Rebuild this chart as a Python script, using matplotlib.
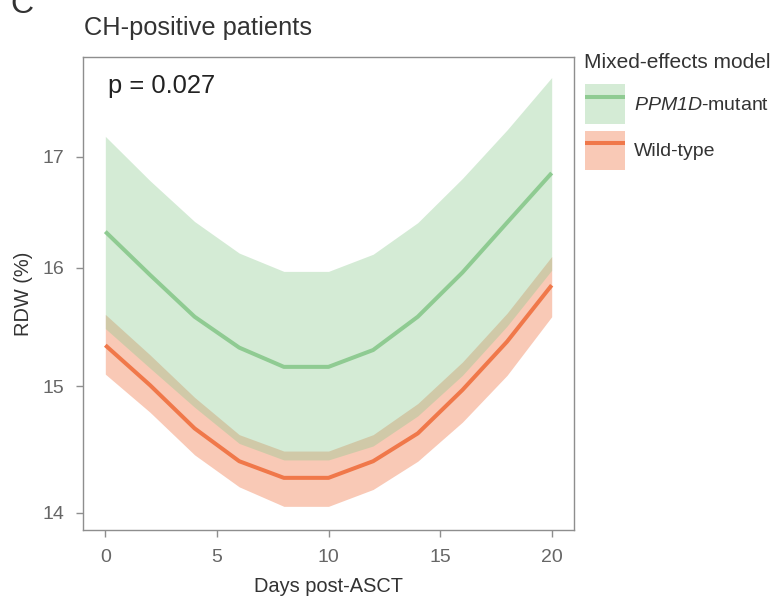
import matplotlib
matplotlib.use("Agg")
import matplotlib.pyplot as plt
from matplotlib.patches import Patch
from matplotlib.lines import Line2D
from matplotlib.legend_handler import HandlerTuple, HandlerLine2D
from matplotlib.ticker import FixedLocator, FixedFormatter, NullLocator

plt.rcParams['font.family'] = ['Liberation Sans', 'DejaVu Sans']
plt.rcParams['mathtext.fontset'] = 'custom'
plt.rcParams['mathtext.it'] = 'Liberation Sans:italic'
plt.rcParams['mathtext.rm'] = 'Liberation Sans:italic'

# ---- data ----
days = [0, 2, 4, 6, 8, 10, 12, 14, 16, 18, 20]

mut_fit = [16.32, 15.94, 15.58, 15.32, 15.16, 15.16, 15.30, 15.58, 15.96, 16.40, 16.85]
mut_lo = [15.48, 15.15, 14.83, 14.54, 14.41, 14.41, 14.52, 14.76, 15.09, 15.50, 15.98]
mut_hi = [17.19, 16.78, 16.41, 16.13, 15.97, 15.97, 16.12, 16.40, 16.80, 17.25, 17.75]

wt_fit = [15.34, 15.01, 14.66, 14.40, 14.27, 14.27, 14.40, 14.62, 14.97, 15.37, 15.85]
wt_lo = [15.10, 14.79, 14.45, 14.20, 14.05, 14.05, 14.18, 14.40, 14.71, 15.09, 15.58]
wt_hi = [15.60, 15.26, 14.91, 14.61, 14.48, 14.48, 14.61, 14.86, 15.20, 15.61, 16.10]

y_ticks = [14, 15, 16, 17]
x_ticks = [0, 5, 10, 15, 20]
p_text = "p = 0.027"
legend_title = "Mixed-effects model"
labels = [r"$\mathrm{PPM1D}$-mutant", "Wild-type"]

# ---- style ----
green = "#8fcb92"
red = "#f0784a"
fill_alpha = 0.38
txt = "#333333"
tick_txt = "#666666"
frame = "#8e8e8e"

fig = plt.figure(figsize=(7.73, 5.97), dpi=100)
ax = fig.add_axes([83/773, 1-530/597, (574-83)/773, (530-57)/597])

ax.fill_between(days, wt_lo, wt_hi, color=red, alpha=0.40, lw=0)
ax.fill_between(days, mut_lo, mut_hi, color=green, alpha=fill_alpha, lw=0)
ax.plot(days, wt_fit, color=red, lw=2.9, solid_capstyle='butt')
ax.plot(days, mut_fit, color=green, lw=2.9, solid_capstyle='butt')

ax.set_yscale('log')
ax.set_xlim(-1, 21)
ax.set_ylim(13.87, 17.95)
ax.yaxis.set_major_locator(FixedLocator(y_ticks))
ax.yaxis.set_major_formatter(FixedFormatter([str(t) for t in y_ticks]))
ax.yaxis.set_minor_locator(NullLocator())
ax.set_xticks(x_ticks)
ax.set_xticklabels([str(t) for t in x_ticks])

for s in ax.spines.values():
    s.set_color(frame)
    s.set_linewidth(1.0)
ax.tick_params(axis='both', colors=frame, labelcolor=tick_txt, labelsize=14,
               length=5, width=1.0, pad=8.5)

ax.set_xlabel("Days post-ASCT", fontsize=14.4, color=txt, labelpad=8)
ax.set_ylabel("RDW (%)", fontsize=14.4, color=txt, labelpad=7)

ax.text(0.051, 0.924, p_text, transform=ax.transAxes, fontsize=18.4,
        color="#222222", ha='left', va='baseline')

fig.text(84/773, 1-35/597, "CH-positive patients", fontsize=18.3, color=txt,
         ha='left', va='baseline')
fig.text(10/773, 1-13/597, "C", fontsize=23, color=txt, ha='left', va='baseline')

fig.text(584/773, 1-63/597, legend_title, fontsize=15, color=txt,
         ha='left', va='center')

h1 = (Patch(facecolor=green, alpha=fill_alpha, lw=0),
      Line2D([], [], color=green, lw=2.9, solid_capstyle='butt'))
h2 = (Patch(facecolor=red, alpha=0.40, lw=0),
      Line2D([], [], color=red, lw=2.9, solid_capstyle='butt'))
leg = fig.legend([h1, h2], labels,
                 handler_map={tuple: HandlerTuple(ndivide=1, pad=0),
                              Line2D: HandlerLine2D(marker_pad=0.1)},
                 loc='upper left', bbox_to_anchor=(585/773, 1-84/597),
                 frameon=False, fontsize=14, borderpad=0,
                 handlelength=2.05, handleheight=2.75,
                 handletextpad=0.45, labelspacing=0.36, borderaxespad=0)
for t in leg.get_texts():
    t.set_color(txt)

fig.savefig("out.png", dpi=100)
